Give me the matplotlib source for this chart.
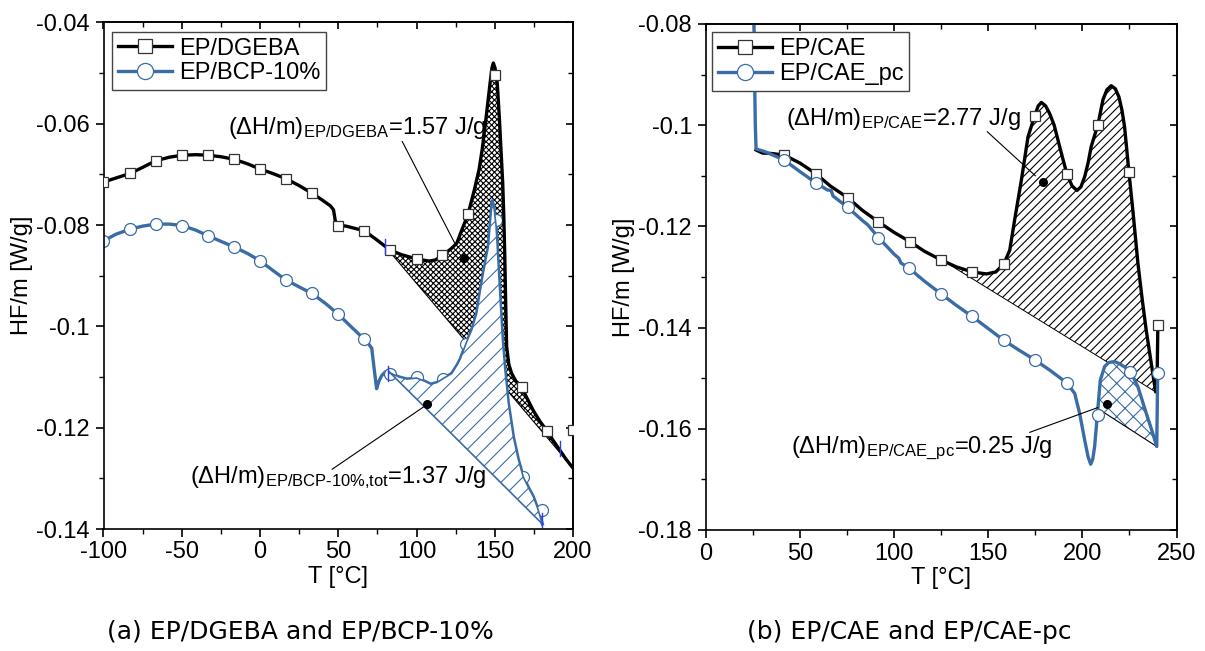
import numpy as np
import matplotlib
matplotlib.use("Agg")
import matplotlib.pyplot as plt
from matplotlib.ticker import MultipleLocator, FuncFormatter
from matplotlib.lines import Line2D

plt.rcParams.update({
    "font.family": ["Liberation Sans", "DejaVu Sans"],
    "mathtext.fontset": "custom",
    "mathtext.rm": "Liberation Sans",
    "mathtext.it": "Liberation Sans:italic",
    "mathtext.bf": "Liberation Sans:bold",
    "axes.unicode_minus": False,
    "hatch.linewidth": 0.8,
})

BLACK = "black"
BLUE = "#3a6ca6"
TICKBLUE = "#2f3cf0"

# ---------------- (a) EP/DGEBA and EP/BCP-10% ----------------
dgeba_T = [-100, -95, -90, -83, -75, -66.6, -58, -49.6, -41, -33.3, -25, -16.7, -8, -0.2,
           8, 16.4, 25, 33.2, 40, 45, 47, 48, 49, 55, 60, 66.6, 75, 80, 83.1, 90, 100.2,
           108, 112, 116.5, 122, 125.7, 128.9, 133, 137, 140, 142, 144, 145.5, 147, 148.2,
           149.1, 150.2, 151.6, 152.9, 154, 155.1, 155.8, 156.4, 156.9, 157.6, 159, 160.8,
           163.5, 167.2, 170, 174.6, 179, 183.6, 187.5, 191.7, 195.5, 199.8]
dgeba_HF = [-0.0715, -0.0710, -0.0705, -0.0698, -0.0686, -0.0673, -0.0666, -0.0662, -0.0661,
            -0.0662, -0.0665, -0.0670, -0.0679, -0.0689, -0.0698, -0.0708, -0.0722, -0.0737,
            -0.0751, -0.0762, -0.0770, -0.0790, -0.0800, -0.0802, -0.0806, -0.0811, -0.0830,
            -0.0842, -0.0849, -0.0858, -0.0867, -0.0871, -0.0869, -0.0860, -0.0847, -0.0836,
            -0.0810, -0.0778, -0.0730, -0.0690, -0.0650, -0.0600, -0.0560, -0.0520, -0.0490,
            -0.0480, -0.0490, -0.0520, -0.0586, -0.0652, -0.0718, -0.0784, -0.0860, -0.0940,
            -0.1040, -0.1075, -0.1093, -0.1108, -0.1119, -0.1138, -0.1166, -0.1188, -0.1207,
            -0.1226, -0.1245, -0.1262, -0.1279]
dgeba_mk_T = [-100, -83, -66.6, -49.6, -33.3, -16.7, -0.2, 16.4, 33.2, 49.8, 66.6, 83.1,
              100.2, 116.5, 133, 150.2, 167.2, 183.6, 199.8]
dgeba_mk_HF = [-0.0714, -0.0698, -0.0673, -0.0662, -0.0662, -0.0670, -0.0689, -0.0708,
               -0.0737, -0.0802, -0.0811, -0.0849, -0.0867, -0.0860, -0.0778, -0.0503,
               -0.1119, -0.1207, -0.1205]

bcp_T = [-100, -92, -83, -75, -66.6, -58, -49.6, -41, -33.3, -25, -16.7, -8, -0.2, 8, 16.4,
         25, 33.2, 42, 50, 58, 66.5, 69.5, 71.4, 72.8, 74.5, 76, 77.8, 80, 82, 83, 89, 94,
         100, 105, 109, 113, 117, 122.5, 126, 128, 131.6, 135.3, 138.5, 140.5, 142.7, 144.5,
         145.9, 147.3, 148.4, 149.5, 150.8, 151.6, 153.4, 155.0, 156.5, 158.7, 161.9, 165,
         168.2, 171.5, 174.6, 177.5, 180.4]
bcp_HF = [-0.0831, -0.0818, -0.0808, -0.0802, -0.0798, -0.0798, -0.0801, -0.0810, -0.0821,
          -0.0832, -0.0843, -0.0856, -0.0870, -0.0889, -0.0908, -0.0922, -0.0935, -0.0955,
          -0.0976, -0.1000, -0.1025, -0.1035, -0.1043, -0.1080, -0.1123, -0.1108, -0.1097,
          -0.1090, -0.1088, -0.1092, -0.1100, -0.1104, -0.1102, -0.1108, -0.1114, -0.1111,
          -0.1103, -0.1093, -0.1076, -0.1064, -0.1034, -0.1007, -0.0974, -0.0935, -0.0895,
          -0.0866, -0.0843, -0.0790, -0.0752, -0.0765, -0.0800, -0.0843, -0.0945, -0.1030,
          -0.1086, -0.1152, -0.1218, -0.1262, -0.1297, -0.1318, -0.1336, -0.1360, -0.1390]
bcp_mk_T = [-100, -83, -66.6, -49.6, -33.3, -16.7, -0.2, 16.4, 33.2, 50, 66.5, 83, 100,
            116.7, 131.6, 150.8, 168.2, 180.4]
bcp_mk_HF = [-0.0831, -0.0808, -0.0798, -0.0801, -0.0821, -0.0843, -0.0870, -0.0908,
             -0.0935, -0.0976, -0.1025, -0.1093, -0.1100, -0.1103, -0.1034, -0.0790,
             -0.1297, -0.1362]

# integration baselines (start point, end point)
dgeba_base = [(80.0, -0.0842), (199.8, -0.1279)]
bcp_base = [(82.0, -0.1088), (180.4, -0.1390)]
# integration-limit markers (T, HF) on each curve
limit_marks_a = [(80.0, -0.0842), (191.7, -0.1241), (81.8, -0.1093), (180.4, -0.1383)]

# ---------------- (b) EP/CAE and EP/CAE_pc ----------------
cae_T = [26.6, 30, 35, 41.6, 50, 58.4, 66, 75.2, 83, 91.6, 100, 108.3, 116, 124.7, 133,
         141.5, 149, 154, 158.3, 161.4, 164, 167.6, 171.1, 174.6, 176.5, 178.2, 180.5, 182.6,
         185, 187, 189.5, 191.8, 194.5, 197.1, 199.2, 201.2, 203, 204.7, 206.5, 208.2, 210.9,
         213, 215.3, 217.5, 219.4, 221, 222.4, 224.7, 226.8, 229.5, 231.8, 233.9, 236.6,
         238.9, 239.6, 240.1]
cae_HF = [-0.1049, -0.1055, -0.1056, -0.1059, -0.1075, -0.1096, -0.1120, -0.1143, -0.1168,
          -0.1191, -0.1212, -0.1230, -0.1249, -0.1266, -0.1280, -0.1290, -0.1294, -0.1290,
          -0.1274, -0.1247, -0.1187, -0.1108, -0.1023, -0.0982, -0.0962, -0.0955, -0.0962,
          -0.0977, -0.1000, -0.1029, -0.1065, -0.1097, -0.1120, -0.1129, -0.1122, -0.1102,
          -0.1075, -0.1042, -0.1020, -0.1000, -0.0950, -0.0930, -0.0922, -0.0928, -0.0944,
          -0.0970, -0.1003, -0.1092, -0.1168, -0.1273, -0.1345, -0.1405, -0.1471, -0.1527,
          -0.1527, -0.1395]
cae_mk_T = [41.6, 58.4, 75.2, 91.6, 108.3, 124.7, 141.5, 158.3, 174.6, 191.8, 208.2, 224.7,
            240.1]
cae_mk_HF = [-0.1059, -0.1096, -0.1143, -0.1191, -0.1230, -0.1266, -0.1290, -0.1274,
             -0.0982, -0.1097, -0.1000, -0.1092, -0.1395]

caepc_T = [25.4, 25.8, 26.2, 26.6, 31, 35, 41.6, 50, 58.4, 64.5, 66.5, 67.5, 75.2, 83, 86,
           91.6, 100, 102.5, 103.5, 108, 116, 124.8, 133, 141.4, 150, 158.2, 166.5, 174.8,
           183, 191.6, 195.9, 198.5, 201.2, 203, 204.4, 205.5, 206.5, 207.7, 209.5, 211.8,
           214, 217.1, 220, 223.3, 225.6, 229.5, 233.9, 237.4, 239.5, 240.0]
caepc_HF = [-0.0760, -0.0900, -0.1000, -0.1047, -0.1052, -0.1058, -0.1069, -0.1092,
            -0.1114, -0.1128, -0.1129, -0.1140, -0.1162, -0.1188, -0.1197, -0.1222, -0.1255,
            -0.1263, -0.1272, -0.1283, -0.1308, -0.1333, -0.1356, -0.1378, -0.1402, -0.1425,
            -0.1445, -0.1464, -0.1485, -0.1509, -0.1530, -0.1569, -0.1622, -0.1655, -0.1670,
            -0.1660, -0.1635, -0.1583, -0.1504, -0.1477, -0.1469, -0.1467, -0.1472, -0.1480,
            -0.1487, -0.1517, -0.1569, -0.1609, -0.1635, -0.1489]
caepc_mk_T = [41.6, 58.4, 75.2, 91.6, 108, 124.8, 141.4, 158.2, 174.8, 191.6, 208.4, 225.4,
              240.1]
caepc_mk_HF = [-0.1069, -0.1114, -0.1162, -0.1222, -0.1283, -0.1333, -0.1378, -0.1425,
               -0.1464, -0.1509, -0.1573, -0.1487, -0.1489]

cae_base = [(130.0, -0.1277), (238.9, -0.1527)]
caepc_base = [(208.2, -0.1560), (239.5, -0.1635)]

# enthalpy labels: text, text anchor, leader start, leader end, dot
notes_a = [
    (r"$\mathrm{(\Delta H/m)}_{\mathrm{EP/DGEBA}}$=1.57 J/g", (-20.4, -0.0620),
     (90.9, -0.0635), (124.5, -0.0836), (130.6, -0.0864)),
    (r"$\mathrm{(\Delta H/m)}_{\text{EP/BCP-10\%,tot}}$=1.37 J/g", (-44.7, -0.1310),
     (46.1, -0.1282), (104.5, -0.1159), (107.0, -0.1154)),
]
notes_b = [
    (r"$\mathrm{(\Delta H/m)}_{\mathrm{EP/CAE}}$=2.77 J/g", (42.6, -0.1000),
     (149.5, -0.1013), (175.0, -0.1100), (179.1, -0.1112)),
    (r"$\mathrm{(\Delta H/m)}_{\text{EP/CAE\_pc}}$=0.25 J/g", (45.1, -0.1648),
     (172.0, -0.1607), (208.2, -0.1558), (213.0, -0.1551)),
]

FS = 17


def region(T, HF, base):
    (t0, y0), (t1, y1) = base
    T = np.asarray(T)
    HF = np.asarray(HF)
    m = (T > t0) & (T < t1)
    return (np.concatenate([[t0], T[m], [t1]]),
            np.concatenate([[y0], HF[m], [y1]]))


def style_axes(ax, xlim, ylim, xmaj, ymaj):
    ax.set_xlim(*xlim)
    ax.set_ylim(*ylim)
    fmt = FuncFormatter(lambda v, p: "%g" % round(v, 6))
    ax.xaxis.set_major_locator(MultipleLocator(xmaj))
    ax.xaxis.set_minor_locator(MultipleLocator(xmaj / 2))
    ax.yaxis.set_major_locator(MultipleLocator(ymaj))
    ax.yaxis.set_minor_locator(MultipleLocator(ymaj / 2))
    ax.xaxis.set_major_formatter(fmt)
    ax.yaxis.set_major_formatter(fmt)
    ax.tick_params(which="major", direction="out", length=6, width=1.2, labelsize=FS)
    ax.tick_params(which="minor", direction="out", length=3.5, width=1.0)
    ax.tick_params(axis="x", which="major", pad=3)
    ax.tick_params(axis="y", which="major", pad=4)
    for s in ax.spines.values():
        s.set_linewidth(1.2)
    top = ax.secondary_xaxis("top")
    top.xaxis.set_major_locator(MultipleLocator(xmaj))
    top.xaxis.set_minor_locator(MultipleLocator(xmaj / 2))
    top.tick_params(which="major", direction="in", length=5, width=1.2, labeltop=False)
    top.tick_params(which="minor", direction="in", length=3.5, width=1.0)
    top.spines["top"].set_linewidth(1.2)
    right = ax.secondary_yaxis("right")
    right.yaxis.set_major_locator(MultipleLocator(ymaj))
    right.yaxis.set_minor_locator(MultipleLocator(ymaj / 2))
    right.tick_params(which="major", direction="in", length=5, width=1.2, labelright=False)
    right.tick_params(which="minor", direction="in", length=3.5, width=1.0)
    right.spines["right"].set_linewidth(1.2)
    ax.set_xlabel("T [°C]", fontsize=FS)
    ax.set_ylabel("HF/m [W/g]", fontsize=FS)
    ax.xaxis.set_label_coords(0.5, -0.073)
    ax.yaxis.set_label_coords(-0.150, 0.5)


def draw_notes(ax, notes):
    for txt, (tx, ty), p0, p1, dot in notes:
        ax.text(tx, ty, txt, fontsize=FS, ha="left", va="baseline", zorder=6)
        ax.plot([p0[0], p1[0]], [p0[1], p1[1]], color="black", lw=0.8, zorder=6)
        ax.plot([dot[0]], [dot[1]], "o", color="black", ms=5.5, zorder=6)


def legend(ax, labels, anchor):
    handles = [
        Line2D([], [], color=BLACK, lw=2.4, marker="s", ms=7.2, mfc="white",
               mec="#333333", mew=0.9),
        Line2D([], [], color=BLUE, lw=2.4, marker="o", ms=8.6, mfc="white",
               mec=BLUE, mew=0.9),
    ]
    lg = ax.legend(handles, labels, loc="upper left", bbox_to_anchor=anchor,
                   borderaxespad=0, fontsize=FS, frameon=True, fancybox=False,
                   edgecolor="#444444", framealpha=1, handlelength=2.3,
                   handletextpad=0.3, borderpad=0.25, labelspacing=0.12,
                   markerscale=1.35)
    lg.get_frame().set_linewidth(1.0)
    lg.set_zorder(10)


fig = plt.figure(figsize=(12.05, 6.51), dpi=100)
axA = fig.add_axes([103.5 / 1205, 1 - 529 / 651, 469.5 / 1205, 506.5 / 651])
axB = fig.add_axes([706 / 1205, 1 - 530 / 651, 470.5 / 1205, 506 / 651])

# ---- panel (a)
xs, ys = region(dgeba_T, dgeba_HF, dgeba_base)
axA.fill(xs, ys, facecolor="white", edgecolor="black", hatch="xxxxxx", lw=0, zorder=1)
axA.fill(xs, ys, fill=False, edgecolor="black", lw=0.8, zorder=1.1)

axA.plot(bcp_T, bcp_HF, color=BLUE, lw=2.4, zorder=2)
axA.plot(bcp_mk_T, bcp_mk_HF, "o", ms=8.6, mfc="white", mec=BLUE, mew=0.9, zorder=2.1)

xs, ys = region(bcp_T, bcp_HF, bcp_base)
axA.fill(xs, ys, facecolor="white", edgecolor=BLUE, hatch="//", lw=0, zorder=2.5)
axA.fill(xs, ys, fill=False, edgecolor=BLUE, lw=1.2, zorder=2.6)

axA.plot(dgeba_T, dgeba_HF, color=BLACK, lw=2.4, zorder=3)
axA.plot(dgeba_mk_T, dgeba_mk_HF, "s", ms=7.2, mfc="white", mec="#333333", mew=0.9,
         zorder=3.1)

for t, h in limit_marks_a:
    axA.plot([t, t], [h - 0.0014, h + 0.0014], color=TICKBLUE, lw=1.0, zorder=4)

draw_notes(axA, notes_a)
style_axes(axA, (-100, 200), (-0.14, -0.04), 50, 0.02)
legend(axA, ["EP/DGEBA", "EP/BCP-10%"], (0.0175, 0.982))

# ---- panel (b)
xs, ys = region(cae_T, cae_HF, cae_base)
axB.fill(xs, ys, facecolor="white", edgecolor="black", hatch="////", lw=0, zorder=1)
axB.fill(xs, ys, fill=False, edgecolor="black", lw=0.7, zorder=1.1)

xs, ys = region(caepc_T, caepc_HF, caepc_base)
axB.fill(xs, ys, facecolor="white", edgecolor=BLUE, hatch="xx", lw=0, zorder=1.5)
axB.fill(xs, ys, fill=False, edgecolor="black", lw=0.8, zorder=1.6)

axB.plot(cae_T, cae_HF, color=BLACK, lw=2.4, zorder=2)
axB.plot(caepc_T, caepc_HF, color=BLUE, lw=2.4, zorder=2.5)
axB.plot(cae_mk_T, cae_mk_HF, "s", ms=7.2, mfc="white", mec="#333333", mew=0.9, zorder=3)
axB.plot(caepc_mk_T, caepc_mk_HF, "o", ms=8.6, mfc="white", mec=BLUE, mew=0.9, zorder=3)

draw_notes(axB, notes_b)
style_axes(axB, (0, 250), (-0.18, -0.08), 50, 0.02)
legend(axB, ["EP/CAE", "EP/CAE_pc"], (0.012, 0.984))

# ---- captions
fig.text(300 / 1205, 1 - 639 / 651, "(a) EP/DGEBA and EP/BCP-10%", family="DejaVu Sans",
         fontsize=18, ha="center", va="baseline")
fig.text(909 / 1205, 1 - 639 / 651, "(b) EP/CAE and EP/CAE-pc", family="DejaVu Sans",
         fontsize=18, ha="center", va="baseline")

fig.savefig("out.png", dpi=100)
